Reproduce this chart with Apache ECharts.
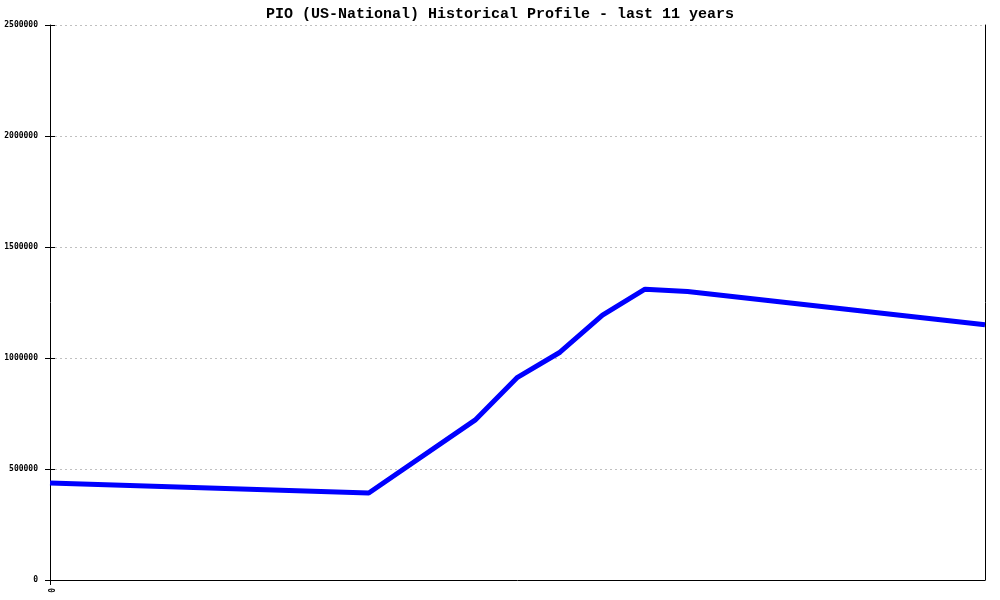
<!DOCTYPE html>
<html>
<head>
<meta charset="utf-8">
<script src="https://cdn.jsdelivr.net/npm/echarts@6/dist/echarts.min.js"></script>
<style>
  html, body { margin: 0; padding: 0; background: #fff; }
  #chart { width: 1000px; height: 600px; }
</style>
</head>
<body>
<div id="chart"></div>
<script>
// time in years from the start of the 11 year window
var years = [0, 3.75, 5, 5.5, 6, 6.5, 7, 7.5, 11];
// population values
var values = [437000, 392000, 720000, 913000, 1026000, 1193000, 1310000, 1300000, 1150000];
var yTicks = [0, 500000, 1000000, 1500000, 2000000, 2500000];

var points = years.map(function (x, i) { return [x, values[i]]; });

var myChart = echarts.init(document.getElementById('chart'));

var labelFont = {
    fontFamily: 'DejaVu Sans Mono, Liberation Mono, monospace',
    fontSize: 8,
    fontWeight: 'bold',
    color: '#000'
};
var yMax = yTicks[yTicks.length - 1];

myChart.setOption({
    animation: false,
    title: {
        text: 'PIO (US-National) Historical Profile - last 11 years',
        left: 'center',
        top: 2,
        textStyle: {
            fontFamily: 'Liberation Mono, DejaVu Sans Mono, monospace',
            fontSize: 15,
            fontWeight: 'bold',
            color: '#000'
        }
    },
    grid: { left: 50, right: 15, top: 25, bottom: 20, outerBoundsMode: 'none', containLabel: false },
    xAxis: {
        type: 'value',
        min: 0,
        max: 11,
        axisLine: { lineStyle: { color: '#000', width: 1 } },
        axisTick: { show: true, customValues: [0], length: 5, lineStyle: { color: '#000' } },
        axisLabel: Object.assign({ customValues: [0], rotate: -90, margin: 8, formatter: function (v) { return String(v); } }, labelFont),
        splitLine: { show: false }
    },
    yAxis: [{
        type: 'value',
        min: 0,
        max: yMax,
        interval: 500000,
        offset: 0,
        axisLine: { show: true, lineStyle: { color: '#000', width: 1 } },
        axisTick: { show: false },
        axisLabel: Object.assign({ margin: 12, formatter: function (v) { return String(v); } }, labelFont),
        splitLine: { show: true, lineStyle: { color: '#c0c0c0', type: [2, 3], width: 1 } }
    }, {
        // crossing ticks: axis shifted 5px into the plot, ticks 10px long
        type: 'value',
        position: 'left',
        offset: -5,
        min: 0,
        max: yMax,
        interval: 500000,
        axisLine: { show: true, lineStyle: { color: 'rgba(0,0,0,0)' } },
        axisTick: { show: true, length: 10, lineStyle: { color: '#000' } },
        axisLabel: { show: false },
        splitLine: { show: false }
    }, {
        // right border
        type: 'value',
        position: 'right',
        offset: 0,
        min: 0,
        max: yMax,
        interval: 500000,
        axisLine: { show: true, lineStyle: { color: '#000', width: 1 } },
        axisTick: { show: false },
        axisLabel: { show: false },
        splitLine: { show: false }
    }],
    series: [{
        type: 'line',
        yAxisIndex: 0,
        data: points,
        symbol: 'none',
        lineStyle: { color: '#0000ff', width: 5 },
        itemStyle: { color: '#0000ff' }
    }]
});
</script>
</body>
</html>
